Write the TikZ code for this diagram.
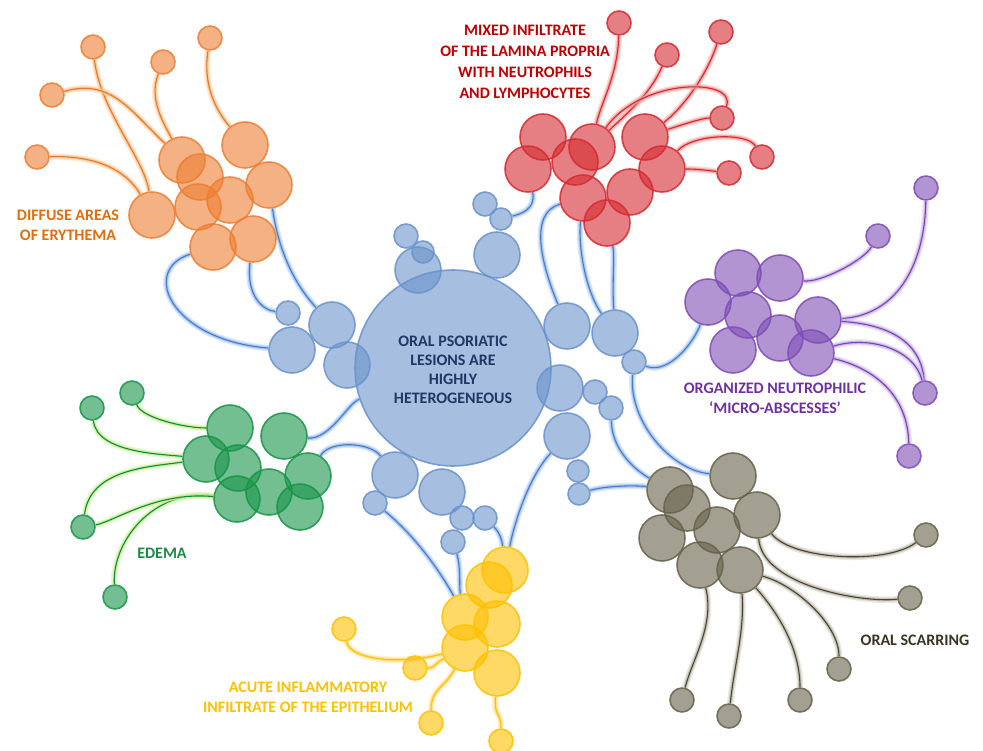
\documentclass[tikz,border=0pt]{standalone}
\usepackage{fontspec}
\setmainfont{Carlito}
\usetikzlibrary{backgrounds}
\definecolor{cblue}{HTML}{6A92CA}
\definecolor{bline}{HTML}{4A7CC9}
\definecolor{bglow}{HTML}{9DC0EE}
\definecolor{corange}{HTML}{ED7D31}
\definecolor{oline}{HTML}{E8782A}
\definecolor{oglow}{HTML}{F9C592}
\definecolor{cred}{HTML}{D42A30}
\definecolor{rglow}{HTML}{F29A9A}
\definecolor{cpurple}{HTML}{7E4DB6}
\definecolor{pline}{HTML}{7A45B0}
\definecolor{pglow}{HTML}{C8B2E6}
\definecolor{cgreen}{HTML}{179447}
\definecolor{gline}{HTML}{0F8A3E}
\definecolor{gglow}{HTML}{C6EE92}
\definecolor{cyellow}{HTML}{FFC000}
\definecolor{yglow}{HTML}{FFDD80}
\definecolor{cgrey}{HTML}{66614A}
\definecolor{kline}{HTML}{4A4535}
\definecolor{kglow}{HTML}{BDB9AA}
\definecolor{tcore}{HTML}{1F3864}
\definecolor{torange}{HTML}{E46C0A}
\definecolor{tred}{HTML}{C00000}
\definecolor{tpurple}{HTML}{7030A0}
\definecolor{tgreen}{HTML}{1B8A44}
\definecolor{tgrey}{HTML}{3B3524}
\begin{document}
\begin{tikzpicture}[x=1pt, y=-1pt, inner sep=0mm,
		cell/.style={circle, draw=#1, fill=#1, fill opacity=0.6, draw opacity=0.85, line width=1.6pt},
		big/.style={minimum size=46pt},
		small/.style={minimum size=24pt},
		link/.style 2 args={draw=#1, line width=1.1pt,
			preaction={draw=#2, line width=6.5pt, draw opacity=0.35},
			preaction={draw=#2, line width=3.5pt, draw opacity=0.8}},
		tagtext/.style={align=center, font=\bfseries\fontsize{16}{20}\selectfont, text=#1}]

		\useasboundingbox (0,0) rectangle (983,751);

		\node [cell=cblue, minimum size=196pt] (core) at (453,368) {};
		\node [tagtext=tcore, font=\bfseries\fontsize{16}{19}\selectfont] (coretext) at (453,370) {ORAL PSORIATIC\\LESIONS ARE\\HIGHLY\\HETEROGENEOUS};

		\node [cell=cblue, small] (bt1) at (406,236) {};
		\node [cell=cblue, minimum size=22pt] (bt2) at (423,252) {};
		\node [cell=cblue, big] (bt3) at (418,270) {};
		\node [cell=cblue, small] (bu1) at (485,204) {};
		\node [cell=cblue, minimum size=22pt] (bu2) at (501,219) {};
		\node [cell=cblue, big] (bu3) at (497,255) {};
		\node [cell=cblue, big] (br1) at (567,326) {};
		\node [cell=cblue, big] (br2) at (615,333) {};
		\node [cell=cblue, small] (br3) at (634,362) {};
		\node [cell=cblue, big] (bs1) at (560,388) {};
		\node [cell=cblue, small] (bs2) at (595,392) {};
		\node [cell=cblue, small] (bs3) at (611,408) {};
		\node [cell=cblue, big] (bs4) at (567,436) {};
		\node [cell=cblue, minimum size=22pt] (bs5) at (578,471) {};
		\node [cell=cblue, minimum size=22pt] (bs6) at (579,494) {};
		\node [cell=cblue, small] (bl1) at (288,313) {};
		\node [cell=cblue, big] (bl2) at (332,325) {};
		\node [cell=cblue, big] (bl3) at (292,350) {};
		\node [cell=cblue, big] (bl4) at (347,365) {};
		\node [cell=cblue, big] (bb1) at (395,475) {};
		\node [cell=cblue, big] (bb2) at (442,492) {};
		\node [cell=cblue, small] (bb3) at (375,503) {};
		\node [cell=cblue, small] (bb4) at (462,518) {};
		\node [cell=cblue, small] (bb5) at (485,518) {};
		\node [cell=cblue, small] (bb6) at (453,542) {};

		\node [cell=corange, big] (o1) at (152,215) {};
		\node [cell=corange, big] (o2) at (182,160) {};
		\node [cell=corange, big] (o3) at (200,177) {};
		\node [cell=corange, big] (o4) at (245,145) {};
		\node [cell=corange, big] (o5) at (198,207) {};
		\node [cell=corange, big] (o6) at (230,200) {};
		\node [cell=corange, big] (o7) at (269,185) {};
		\node [cell=corange, big] (o8) at (213,247) {};
		\node [cell=corange, big] (o9) at (253,239) {};
		\node [cell=corange, small] (os1) at (93,47) {};
		\node [cell=corange, small] (os2) at (163,62) {};
		\node [cell=corange, small] (os3) at (210,38) {};
		\node [cell=corange, small] (os4) at (52,95) {};
		\node [cell=corange, small] (os5) at (37,157) {};
		\node [tagtext=torange] (otext) at (68,225) {DIFFUSE AREAS\\OF ERYTHEMA};

		\node [cell=cred, big] (r1) at (543,137) {};
		\node [cell=cred, big] (r2) at (528,169) {};
		\node [cell=cred, big] (r3) at (575,162) {};
		\node [cell=cred, big] (r4) at (592,147) {};
		\node [cell=cred, big] (r5) at (645,137) {};
		\node [cell=cred, big] (r6) at (662,169) {};
		\node [cell=cred, big] (r7) at (630,192) {};
		\node [cell=cred, big] (r8) at (583,198) {};
		\node [cell=cred, big] (r9) at (607,223) {};
		\node [cell=cred, small] (rs1) at (619,23) {};
		\node [cell=cred, small] (rs2) at (667,55) {};
		\node [cell=cred, small] (rs3) at (721,32) {};
		\node [cell=cred, small] (rs4) at (722,118) {};
		\node [cell=cred, small] (rs5) at (762,157) {};
		\node [cell=cred, small] (rs6) at (729,173) {};
		\node [tagtext=tred, font=\bfseries\fontsize{16}{21}\selectfont] (rtext) at (525,62) {MIXED INFILTRATE\\OF THE LAMINA PROPRIA\\WITH NEUTROPHILS\\AND LYMPHOCYTES};

		\node [cell=cpurple, big] (p1) at (738,273) {};
		\node [cell=cpurple, big] (p2) at (780,278) {};
		\node [cell=cpurple, big] (p3) at (708,302) {};
		\node [cell=cpurple, big] (p4) at (748,315) {};
		\node [cell=cpurple, big] (p5) at (733,350) {};
		\node [cell=cpurple, big] (p6) at (780,338) {};
		\node [cell=cpurple, big] (p7) at (818,320) {};
		\node [cell=cpurple, big] (p8) at (811,353) {};
		\node [cell=cpurple, small] (ps1) at (926,188) {};
		\node [cell=cpurple, small] (ps2) at (878,236) {};
		\node [cell=cpurple, small] (ps3) at (925,393) {};
		\node [cell=cpurple, small] (ps4) at (909,456) {};
		\node [tagtext=tpurple] (ptext) at (775,398) {ORGANIZED NEUTROPHILIC\\‘MICRO-ABSCESSES’};

		\node [cell=cgreen, big] (g1) at (230,428) {};
		\node [cell=cgreen, big] (g2) at (284,436) {};
		\node [cell=cgreen, big] (g3) at (206,459) {};
		\node [cell=cgreen, big] (g4) at (238,468) {};
		\node [cell=cgreen, big] (g5) at (308,476) {};
		\node [cell=cgreen, big] (g6) at (237,499) {};
		\node [cell=cgreen, big] (g7) at (269,492) {};
		\node [cell=cgreen, big] (g8) at (300,507) {};
		\node [cell=cgreen, small] (gs1) at (132,393) {};
		\node [cell=cgreen, small] (gs2) at (92,408) {};
		\node [cell=cgreen, small] (gs3) at (83,527) {};
		\node [cell=cgreen, small] (gs4) at (115,597) {};
		\node [tagtext=tgreen] (gtext) at (162,553) {EDEMA};

		\node [cell=cyellow, big] (y1) at (505,570) {};
		\node [cell=cyellow, big] (y2) at (489,585) {};
		\node [cell=cyellow, big] (y3) at (465,617) {};
		\node [cell=cyellow, big] (y4) at (497,624) {};
		\node [cell=cyellow, big] (y5) at (465,648) {};
		\node [cell=cyellow, big] (y6) at (497,673) {};
		\node [cell=cyellow, small] (ys1) at (344,629) {};
		\node [cell=cyellow, small] (ys2) at (415,668) {};
		\node [cell=cyellow, small] (ys3) at (431,723) {};
		\node [cell=cyellow, small] (ys4) at (501,741) {};
		\node [tagtext=cyellow] (ytext) at (308,697) {ACUTE INFLAMMATORY\\INFILTRATE OF THE EPITHELIUM};

		\node [cell=cgrey, big] (k1) at (733,476) {};
		\node [cell=cgrey, big] (k2) at (670,490) {};
		\node [cell=cgrey, big] (k3) at (687,508) {};
		\node [cell=cgrey, big] (k4) at (757,515) {};
		\node [cell=cgrey, big] (k5) at (662,538) {};
		\node [cell=cgrey, big] (k6) at (717,530) {};
		\node [cell=cgrey, big] (k7) at (700,565) {};
		\node [cell=cgrey, big] (k8) at (740,570) {};
		\node [cell=cgrey, small] (ks1) at (926,535) {};
		\node [cell=cgrey, small] (ks2) at (910,598) {};
		\node [cell=cgrey, small] (ks3) at (839,669) {};
		\node [cell=cgrey, small] (ks4) at (800,700) {};
		\node [cell=cgrey, small] (ks5) at (729,716) {};
		\node [cell=cgrey, small] (ks6) at (682,700) {};
		\node [tagtext=tgrey] (ktext) at (915,640) {ORAL SCARRING};

		\begin{pgfonlayer}{background}
		\draw [link={bline}{bglow}] (o8) .. controls +(-73,23) and +(-122,-10) .. (bl3);
		\draw [link={bline}{bglow}] (o9) .. controls +(-7,56) and +(-26,-3) .. (bl1);
		\draw [link={bline}{bglow}] (o7) .. controls +(11,75) and +(-32,-35) .. (bl2);
		\draw [link={bline}{bglow}] (g2) .. controls +(46,4) and +(-105,35) .. (core);
		\draw [link={bline}{bglow}] (g5) .. controls +(22,-36) and +(-25,-33) .. (bb1);
		\draw [link={bline}{bglow}] (bb3) .. controls +(45,37) and +(-20,-37) .. (y3);
		\draw [link={bline}{bglow}] (bb6) .. controls +(8,25) and +(-6,-30) .. (y3);
		\draw [link={bline}{bglow}] (bb5) .. controls +(15,15) and +(-3,-30) .. (y1);
		\draw [link={bline}{bglow}] (bs4) .. controls +(-37,39) and +(10,-50) .. (y1);
		\draw [link={bline}{bglow}] (bu2) .. controls +(20,-5) and +(8,40) .. (r2);
		\draw [link={bline}{bglow}] (br1) .. controls +(-25,-60) and +(-55,15) .. (r8);
		\draw [link={bline}{bglow}] (br2) .. controls +(-30,-43) and +(-5,47) .. (r8);
		\draw [link={bline}{bglow}] (br2) .. controls +(-3,-53) and +(8,32) .. (r9);
		\draw [link={bline}{bglow}] (br3) .. controls +(36,13) and +(-13,38) .. (p3);
		\draw [link={bline}{bglow}] (br3) .. controls +(-6,58) and +(-63,-6) .. (k1);
		\draw [link={bline}{bglow}] (bs3) .. controls +(1,42) and +(-35,-20) .. (k2);
		\draw [link={bline}{bglow}] (bs6) .. controls +(25,-8) and +(-35,-5) .. (k2);

		\draw [link={oline}{oglow}] (os1) .. controls +(7,63) and +(-7,-55) .. (o1);
		\draw [link={oline}{oglow}] (os4) .. controls +(58,-17) and +(-52,-50) .. (o2);
		\draw [link={oline}{oglow}] (os2) .. controls +(-15,38) and +(-17,-35) .. (o2);
		\draw [link={oline}{oglow}] (os3) .. controls +(-8,52) and +(-25,-30) .. (o4);
		\draw [link={oline}{oglow}] (os5) .. controls +(73,-2) and +(-20,-35) .. (o1);

		\draw [link={cred}{rglow}] (rs1) .. controls +(-1,52) and +(8,-42) .. (r4);
		\draw [link={cred}{rglow}] (rs2) .. controls +(-17,40) and +(33,-32) .. (r4);
		\draw [link={cred}{rglow}] (rs3) .. controls +(-16,48) and +(35,-27) .. (r5);
		\draw [link={cred}{rglow}] (r4) .. controls +(50,-70) and +(15,-40) .. (rs4);
		\draw [link={cred}{rglow}] (rs4) .. controls +(-20,0) and +(30,-10) .. (r5);
		\draw [link={cred}{rglow}] (r6) .. controls +(30,-35) and +(-15,-25) .. (rs5);
		\draw [link={cred}{rglow}] (r6) .. controls +(35,0) and +(-25,-3) .. (rs6);

		\draw [link={pline}{pglow}] (p2) .. controls +(40,5) and +(-15,25) .. (ps2);
		\draw [link={pline}{pglow}] (p7) .. controls +(82,-5) and +(-1,72) .. (ps1);
		\draw [link={pline}{pglow}] (p7) .. controls +(82,5) and +(-3,-43) .. (ps3);
		\draw [link={pline}{pglow}] (p8) .. controls +(59,-18) and +(-10,-43) .. (ps3);
		\draw [link={pline}{pglow}] (p8) .. controls +(69,17) and +(-1,-56) .. (ps4);

		\draw [link={gline}{gglow}] (gs1) .. controls +(10,25) and +(-45,0) .. (g1);
		\draw [link={gline}{gglow}] (gs2) .. controls +(5,45) and +(-45,-5) .. (g3);
		\draw [link={gline}{gglow}] (g3) .. controls +(-60,8) and +(7,-57) .. (gs3);
		\draw [link={gline}{gglow}] (g6) .. controls +(-82,-11) and +(-3,-57) .. (gs4);
		\draw [link={gline}{gglow}] (g6) .. controls +(-80,-8) and +(30,-5) .. (gs3);

		\draw [link={cyellow}{yglow}] (y5) .. controls +(-65,17) and +(6,31) .. (ys1);
		\draw [link={cyellow}{yglow}] (y5) .. controls +(-30,15) and +(20,0) .. (ys2);
		\draw [link={cyellow}{yglow}] (y5) .. controls +(-20,40) and +(0,-35) .. (ys3);
		\draw [link={cyellow}{yglow}] (y6) .. controls +(-3,45) and +(0,-30) .. (ys4);

		\draw [link={kline}{kglow}] (k4) .. controls +(35,45) and +(-40,30) .. (ks1);
		\draw [link={kline}{kglow}] (k4) .. controls +(5,70) and +(-50,5) .. (ks2);
		\draw [link={kline}{kglow}] (k8) .. controls +(55,15) and +(0,-45) .. (ks3);
		\draw [link={kline}{kglow}] (k8) .. controls +(40,45) and +(0,-50) .. (ks4);
		\draw [link={kline}{kglow}] (k8) .. controls +(5,60) and +(5,-50) .. (ks5);
		\draw [link={kline}{kglow}] (k7) .. controls +(15,60) and +(10,-40) .. (ks6);
		\end{pgfonlayer}
\end{tikzpicture}
\end{document}
